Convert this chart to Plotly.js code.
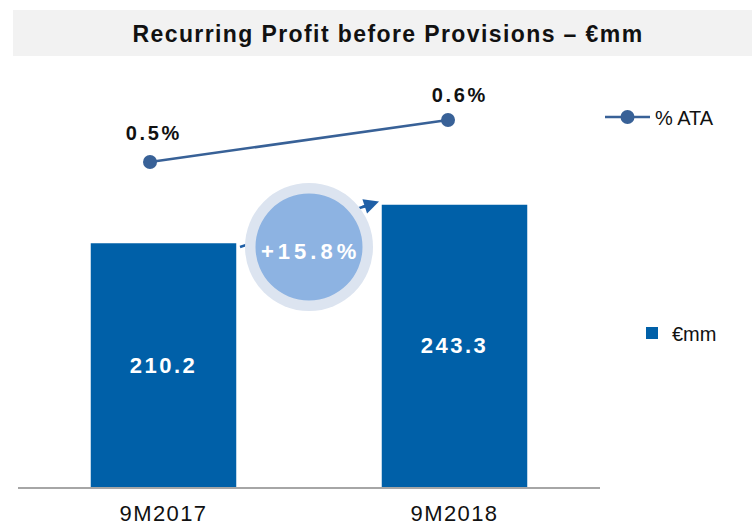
<!DOCTYPE html>
<html>
<head>
<meta charset="utf-8">
<script src="https://cdn.plot.ly/plotly-3.0.1.min.js"></script>
<style>
  html, body { margin: 0; padding: 0; background: #ffffff; }
  #chart { width: 752px; height: 527px; }
  .gtitle { letter-spacing: 1.4px; }
  .xtick text { letter-spacing: 1.4px; }
  .bartext { letter-spacing: 2.5px; }
  .annotation[data-index="0"] .annotation-text { letter-spacing: 4px; }
  .annotation[data-index="2"] .annotation-text,
  .annotation[data-index="3"] .annotation-text { letter-spacing: 2.6px; }
</style>
</head>
<body>
<div id="chart"></div>
<script>
// ---- data ----
const categories = ['9M2017', '9M2018'];
const profitValues = [210.2, 243.3];          // €mm
const ataValues = [0.5, 0.6];                 // % ATA
const ataLabels = ['0.5%', '0.6%'];
const growthLabel = '+15.8%';
const chartTitle = 'Recurring Profit before Provisions – €mm';
const barSeriesName = '€mm';
const lineSeriesName = '% ATA';

// ---- styles ----
const barColor = '#0060a8';
const lineColor = '#386197';
const arrowColor = '#1f5fa6';
const fontFamily = 'Arial, "Liberation Sans", sans-serif';

// plot area in pixels: x 18..600, y 81..487
const L = 18, R = 600, T = 81, B = 487;
const px = (x) => (x - L) / (R - L);
const py = (y) => (B - y) / (B - T);

const traces = [
  {
    type: 'bar',
    name: barSeriesName,
    x: categories,
    y: profitValues,
    marker: { color: barColor },
    text: profitValues.map(v => v.toFixed(1)),
    textposition: 'inside',
    insidetextanchor: 'middle',
    textangle: 0,
    textfont: { family: fontFamily, size: 22, color: '#ffffff', weight: 'bold' },
    hoverinfo: 'skip',
    legend: 'legend2',
    cliponaxis: false
  },
  {
    type: 'scatter',
    mode: 'lines+markers',
    name: lineSeriesName,
    x: categories,
    y: ataValues,
    xaxis: 'x2',
    yaxis: 'y2',
    line: { color: lineColor, width: 2.5 },
    marker: { color: lineColor, size: 14 },
    hoverinfo: 'skip',
    legend: 'legend',
    cliponaxis: false
  }
];

// value labels for the % ATA points (placed at the data points via axes x2/y2)
const ataShifts = [[4, 29], [12, 25]];
const ataAnnotations = categories.map((c, i) => ({
  xref: 'x2', yref: 'y2', x: c, y: ataValues[i],
  text: ataLabels[i], showarrow: false,
  xanchor: 'center', yanchor: 'middle',
  xshift: ataShifts[i][0], yshift: ataShifts[i][1],
  font: { family: fontFamily, size: 20, color: '#111111', weight: 'bold' }
}));

const layout = {
  width: 752,
  height: 527,
  margin: { l: L, r: 752 - R, t: T, b: 527 - B, pad: 0 },
  paper_bgcolor: '#ffffff',
  plot_bgcolor: '#ffffff',
  font: { family: fontFamily, color: '#111111' },
  title: {
    text: chartTitle,
    font: { family: fontFamily, size: 23, color: '#111111', weight: 'bold' },
    xref: 'container', yref: 'container',
    x: 388 / 752, xanchor: 'center',
    y: 1 - 34 / 527, yanchor: 'middle'
  },
  bargap: 0.5,
  xaxis: {
    type: 'category',
    range: [-0.5, 1.5],
    showgrid: false,
    zeroline: false,
    showline: true,
    linecolor: '#a6a6a6',
    linewidth: 1.5,
    ticks: '',
    ticklabelstandoff: 6,
    tickfont: { family: fontFamily, size: 22, color: '#111111' },
    fixedrange: true
  },
  yaxis: {
    range: [0, 350],
    visible: false,
    showgrid: false,
    zeroline: false,
    fixedrange: true
  },
  xaxis2: {
    type: 'category',
    overlaying: 'x',
    range: [-0.443, 1.51],
    visible: false,
    fixedrange: true
  },
  yaxis2: {
    overlaying: 'y',
    range: [-0.274, 0.693],
    visible: false,
    fixedrange: true
  },
  showlegend: true,
  legend: {
    x: px(600), y: py(117),
    xanchor: 'left', yanchor: 'middle',
    bgcolor: 'rgba(0,0,0,0)',
    itemwidth: 45,
    font: { family: fontFamily, size: 20, color: '#111111' }
  },
  legend2: {
    x: px(632), y: py(333),
    xanchor: 'left', yanchor: 'middle',
    bgcolor: 'rgba(0,0,0,0)',
    font: { family: fontFamily, size: 20, color: '#111111' }
  },
  shapes: [
    // title band
    { type: 'rect', xref: 'paper', yref: 'paper', layer: 'below',
      x0: px(13), x1: px(752), y0: py(56), y1: py(10),
      fillcolor: '#f2f2f2', line: { width: 0 } },
    // growth arrow shaft
    { type: 'line', xref: 'paper', yref: 'paper', layer: 'above',
      x0: px(240), y0: py(247), x1: px(368), y1: py(205.2),
      line: { color: arrowColor, width: 2.5 } },
    // outer circle
    { type: 'circle', xref: 'paper', yref: 'paper', layer: 'above',
      xsizemode: 'pixel', ysizemode: 'pixel',
      xanchor: px(309), yanchor: py(247),
      x0: -64, x1: 64, y0: -64, y1: 64,
      fillcolor: '#dce4f0', line: { width: 0 } },
    // inner circle
    { type: 'circle', xref: 'paper', yref: 'paper', layer: 'above',
      xsizemode: 'pixel', ysizemode: 'pixel',
      xanchor: px(309), yanchor: py(247),
      x0: -53.5, x1: 53.5, y0: -53.5, y1: 53.5,
      fillcolor: '#8db3e2', line: { width: 0 } }
  ],
  annotations: [
    { xref: 'paper', yref: 'paper', x: px(310), y: py(251),
      text: growthLabel, showarrow: false,
      xanchor: 'center', yanchor: 'middle',
      font: { family: fontFamily, size: 22, color: '#ffffff', weight: 'bold' } },
    { xref: 'paper', yref: 'paper', x: px(379), y: py(201.6),
      ax: -18, ay: 5.9, axref: 'pixel', ayref: 'pixel',
      text: '', showarrow: true,
      arrowhead: 2, arrowsize: 1.2, arrowwidth: 2.5, arrowcolor: arrowColor }
  ].concat(ataAnnotations)
};

Plotly.newPlot('chart', traces, layout, { displayModeBar: false, staticPlot: true });
</script>
</body>
</html>
